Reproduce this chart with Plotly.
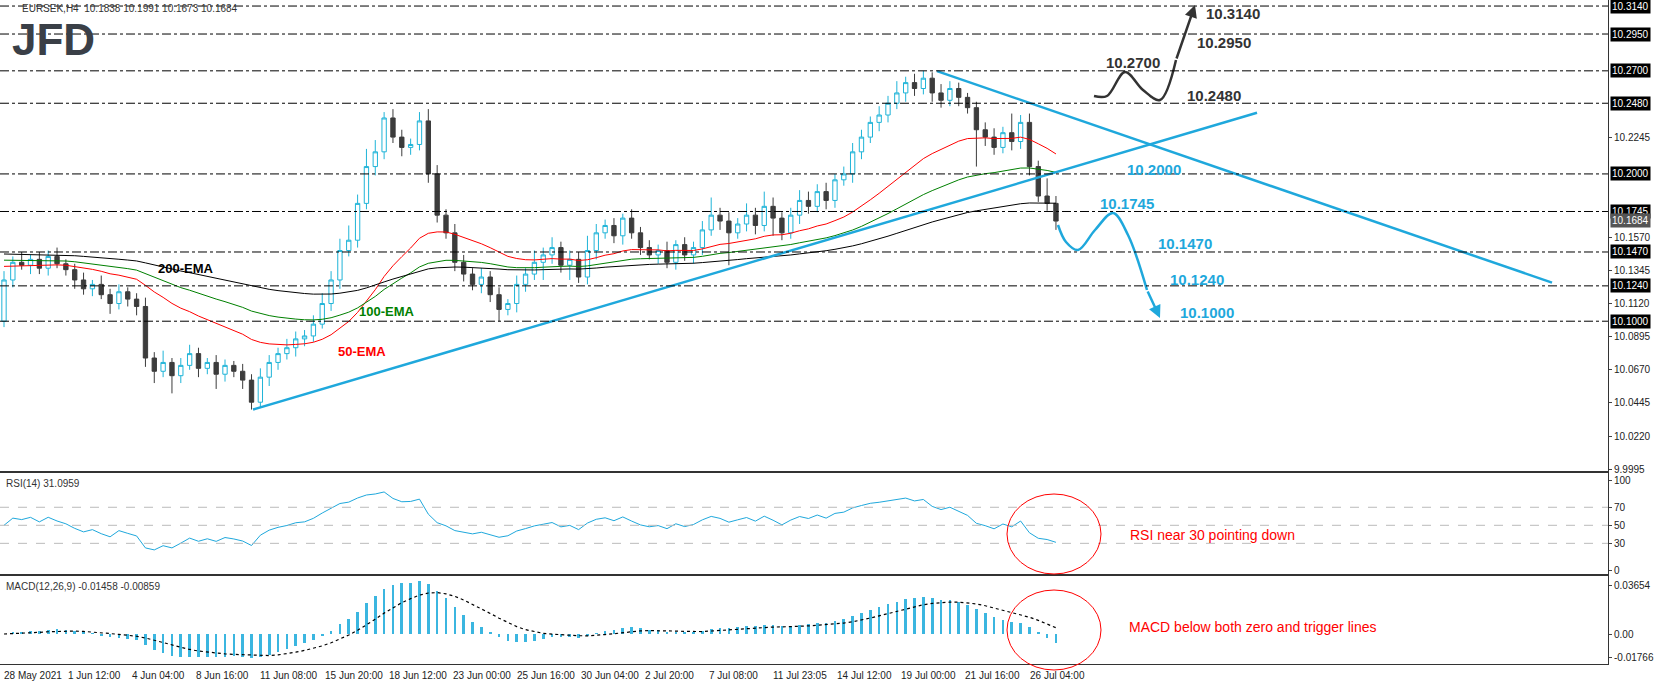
import numpy as np
import plotly.graph_objects as go

# closes of EURSEK (one candle per 8 hours)
closes = [10.128, 10.140, 10.138, 10.142, 10.136, 10.144, 10.139, 10.135,
          10.128, 10.122, 10.125, 10.118, 10.112, 10.120, 10.115, 10.110,
          10.075, 10.066, 10.072, 10.063, 10.070, 10.078, 10.068, 10.072, 10.064, 10.070, 10.066, 10.060,
          10.045, 10.062, 10.072, 10.078, 10.082, 10.088, 10.090, 10.098,
          10.112, 10.128, 10.148, 10.155, 10.180, 10.205, 10.215,
          10.238, 10.225, 10.218, 10.220, 10.236, 10.200,
          10.172, 10.160, 10.140, 10.132,
          10.125, 10.130, 10.118, 10.108, 10.112, 10.125, 10.132, 10.140,
          10.145, 10.150, 10.138, 10.142, 10.130, 10.148, 10.160,
          10.165, 10.158, 10.170, 10.160, 10.150,
          10.145, 10.148, 10.140, 10.152, 10.145, 10.150, 10.162,
          10.172, 10.168, 10.160, 10.166,
          10.172, 10.165, 10.178, 10.170, 10.160, 10.172, 10.182,
          10.178, 10.188, 10.182, 10.196, 10.200,
          10.215, 10.225, 10.235, 10.240, 10.248,
          10.255, 10.262, 10.258, 10.265, 10.255,
          10.250, 10.258, 10.252, 10.245, 10.230,
          10.225, 10.218, 10.228, 10.222, 10.235,
          10.205, 10.185, 10.180, 10.168]
first_open = 10.100
up_wick = [0.006, 0.004, 0.007, 0.003, 0.005, 0.004, 0.006, 0.003, 0.004, 0.005,
           0.003, 0.006, 0.004, 0.005, 0.003, 0.004, 0.006, 0.004, 0.008, 0.003,
           0.005, 0.006, 0.004, 0.003, 0.005, 0.004, 0.003, 0.005, 0.004, 0.006,
           0.005, 0.004, 0.006, 0.005, 0.004, 0.006, 0.007, 0.006, 0.008, 0.010,
           0.006, 0.012, 0.008, 0.004, 0.006, 0.005, 0.004, 0.006, 0.008, 0.006,
           0.004, 0.006, 0.005, 0.004, 0.006, 0.004, 0.005, 0.003, 0.006, 0.004,
           0.008, 0.005, 0.007, 0.004, 0.006, 0.005, 0.010, 0.006, 0.004, 0.005,
           0.003, 0.006, 0.004, 0.005, 0.004, 0.006, 0.003, 0.005, 0.004, 0.006,
           0.012, 0.005, 0.006, 0.004, 0.008, 0.005, 0.010, 0.006, 0.004, 0.005,
           0.007, 0.006, 0.005, 0.006, 0.004, 0.005, 0.006, 0.005, 0.004, 0.006,
           0.005, 0.008, 0.004, 0.006, 0.005, 0.004, 0.006, 0.005, 0.004, 0.003,
           0.004, 0.005, 0.006, 0.004, 0.013, 0.005, 0.006, 0.004, 0.012, 0.005]
dn_wick = [0.004, 0.005, 0.003, 0.006, 0.004, 0.005, 0.003, 0.004, 0.006, 0.004,
           0.005, 0.003, 0.007, 0.004, 0.005, 0.006, 0.006, 0.008, 0.004, 0.012,
           0.005, 0.003, 0.006, 0.004, 0.010, 0.005, 0.004, 0.006, 0.005, 0.004,
           0.006, 0.005, 0.004, 0.006, 0.005, 0.004, 0.003, 0.005, 0.006, 0.004,
           0.005, 0.004, 0.006, 0.005, 0.004, 0.006, 0.005, 0.004, 0.006, 0.005,
           0.004, 0.006, 0.005, 0.004, 0.006, 0.005, 0.008, 0.004, 0.006, 0.005,
           0.004, 0.012, 0.006, 0.005, 0.010, 0.004, 0.005, 0.006, 0.004, 0.005,
           0.006, 0.004, 0.005, 0.003, 0.006, 0.004, 0.005, 0.004, 0.006, 0.005,
           0.004, 0.006, 0.022, 0.004, 0.005, 0.006, 0.004, 0.012, 0.005, 0.004,
           0.006, 0.005, 0.004, 0.006, 0.005, 0.004, 0.006, 0.005, 0.004, 0.006,
           0.005, 0.004, 0.006, 0.005, 0.004, 0.006, 0.005, 0.004, 0.006, 0.004,
           0.025, 0.006, 0.005, 0.004, 0.006, 0.005, 0.006, 0.004, 0.005, 0.006]
ema_seed = {"50": 10.138, "100": 10.142, "200": 10.146}
x_ticks = ["28 May 2021", "1 Jun 12:00", "4 Jun 04:00", "8 Jun 16:00", "11 Jun 08:00",
           "15 Jun 20:00", "18 Jun 12:00", "23 Jun 00:00", "25 Jun 16:00", "30 Jun 04:00",
           "2 Jul 20:00", "7 Jul 08:00", "11 Jul 23:05", "14 Jul 12:00", "19 Jul 00:00",
           "21 Jul 16:00", "26 Jul 04:00"]
price_ticks = [10.2245, 10.1570, 10.1345, 10.1120, 10.0895, 10.0670, 10.0445, 10.0220, 9.9995]
levels = [10.3140, 10.2950, 10.2700, 10.2480, 10.2000, 10.1745, 10.1470, 10.1240, 10.1000]
last_price = 10.1684

n = len(closes)
idx = np.arange(n)
c = np.array(closes)
o = np.concatenate([[first_open], c[:-1]])
h = np.maximum(o, c) + np.array(up_wick)
l = np.minimum(o, c) - np.array(dn_wick)

def ema(vals, period, seed):
    k = 2 / (period + 1)
    out, e = [], seed
    for v in vals:
        e = e + k * (v - e)
        out.append(e)
    return np.array(out)

# 8h candles, so halve the 4h periods
ema50 = ema(c, 25, ema_seed["50"])
ema100 = ema(c, 50, ema_seed["100"])
ema200 = ema(c, 100, ema_seed["200"])

d = np.diff(c, prepend=c[0])
g = ema(np.maximum(d, 0), 24, 0.003)
ls = ema(np.maximum(-d, 0), 24, 0.003)
rsi = 100 - 100 / (1 + g / ls)

macd = ema(c, 11, c[0]) - ema(c, 25, c[0])
signal = ema(macd, 9, 0)

W, H = 1655, 685
ML, MR, MT, MB = 0, 47, 0, 21
PW = W - ML - MR
PH = H - MT - MB
def px(x):
    return (x - ML) / PW
def py(y):
    return 1 - (y - MT) / PH

# pixel <-> data helpers for the main panel
X0, X_PER = 4, 8.84
xr = [(ML - X0) / X_PER, (W - MR - X0) / X_PER]
def xi(x):
    return (x - X0) / X_PER
P_TOP, P_PX = 10.3181, 0.000679
def pr(y):
    return P_TOP - y * P_PX

fig = go.Figure()
fig.add_trace(go.Candlestick(x=idx, open=o, high=h, low=l, close=c,
                             increasing=dict(line=dict(color="#1fb4d8", width=1), fillcolor="white"),
                             decreasing=dict(line=dict(color="#3c3c3c", width=1), fillcolor="#3c3c3c"),
                             whiskerwidth=0, showlegend=False, xaxis="x", yaxis="y"))
for e, col in [(ema50, "red"), (ema100, "green"), (ema200, "black")]:
    fig.add_trace(go.Scatter(x=idx, y=e, mode="lines", line=dict(color=col, width=1),
                             showlegend=False, xaxis="x", yaxis="y"))

# trend lines
fig.add_trace(go.Scatter(x=[xi(253), xi(1257)], y=[10.0400, 10.2415], mode="lines",
                         line=dict(color="#1fa8dc", width=2.5), showlegend=False))
fig.add_trace(go.Scatter(x=[xi(937), xi(1552)], y=[10.2698, 10.1262], mode="lines",
                         line=dict(color="#1fa8dc", width=2.5), showlegend=False))

for lv in levels:
    fig.add_shape(type="line", xref="paper", yref="y", x0=0, x1=1, y0=lv, y1=lv,
                  line=dict(color="black", width=1, dash="dashdot"))

# projected paths
bx = [1094, 1107, 1125, 1143, 1160, 1176]
by = [96, 96, 72, 90, 100, 60]
fig.add_trace(go.Scatter(x=[xi(v) for v in bx], y=[pr(v) for v in by],
                         mode="lines", line=dict(color="#333", width=2.5, shape="spline"), showlegend=False))
fig.add_annotation(x=xi(1195), y=pr(5), ax=xi(1176), ay=pr(60), xref="x", yref="y",
                   axref="x", ayref="y", showarrow=True, arrowhead=2, arrowsize=1, arrowwidth=2.5,
                   arrowcolor="#333", text="")
cx_ = [1058, 1066, 1078, 1095, 1113, 1128, 1147]
cy_ = [225, 242, 250, 230, 213, 235, 290]
fig.add_trace(go.Scatter(x=[xi(v) for v in cx_], y=[pr(v) for v in cy_],
                         mode="lines", line=dict(color="#1fa8dc", width=2.5, shape="spline"), showlegend=False))
fig.add_annotation(x=xi(1160), y=pr(318), ax=xi(1147), ay=pr(290), xref="x", yref="y",
                   axref="x", ayref="y", showarrow=True, arrowhead=2, arrowsize=1, arrowwidth=2.5,
                   arrowcolor="#1fa8dc", text="")

# RSI
fig.add_trace(go.Scatter(x=idx, y=rsi, mode="lines", line=dict(color="#1fa8dc", width=1),
                         showlegend=False, xaxis="x2", yaxis="y2"))
for lv in [70, 50, 30]:
    fig.add_shape(type="line", xref="x2", yref="y2", x0=xr[0], x1=xr[1], y0=lv, y1=lv,
                  line=dict(color="#bbb", width=1, dash="dash"))

# MACD
fig.add_trace(go.Bar(x=idx, y=macd, marker=dict(color="#3bb6e0", line=dict(width=0)), width=0.3,
                     showlegend=False, xaxis="x3", yaxis="y3"))
fig.add_trace(go.Scatter(x=idx, y=signal, mode="lines", line=dict(color="black", width=1.2, dash="dot"),
                         showlegend=False, xaxis="x3", yaxis="y3"))

# ellipses
for ecx, ecy in [(1054, 534), (1054, 630)]:
    fig.add_shape(type="circle", xref="paper", yref="paper", x0=px(ecx - 47), x1=px(ecx + 47),
                  y0=py(ecy + 40), y1=py(ecy - 40), line=dict(color="red", width=1))

F = "Liberation Sans"
def text(x, y, s, col, size=13, bold=False, anchor="left", fam=F):
    fig.add_annotation(x=px(x), y=py(y), xref="paper", yref="paper", text=f"<b>{s}</b>" if bold else s,
                       showarrow=False, xanchor=anchor, yanchor="middle",
                       font=dict(family=fam, size=size, color=col))

text(1104, 63, "10.2700", "#333", 15, True)
text(1185, 95, "10.2480", "#333", 15, True)
text(1204, 13, "10.3140", "#333", 15, True)
text(1195, 42, "10.2950", "#333", 15, True)
text(1125, 169, "10.2000", "#1fa8dc", 15, True)
text(1098, 203, "10.1745", "#1fa8dc", 15, True)
text(1156, 243, "10.1470", "#1fa8dc", 15, True)
text(1168, 279, "10.1240", "#1fa8dc", 15, True)
text(1178, 312, "10.1000", "#1fa8dc", 15, True)
text(156, 269, "200-EMA", "black", 13, True)
text(357, 311, "100-EMA", "green", 13, True)
text(336, 351, "50-EMA", "red", 13, True)
text(1128, 535, "RSI near 30 pointing down", "red", 14)
text(1127, 627, "MACD below both zero and trigger lines", "red", 14)
text(20, 9, "EURSEK,H4  10.1838 10.1991 10.1673 10.1684", "#333", 10)
text(10, 40, "JFD", "#3a3f47", 44, True)
text(4, 483, "RSI(14) 31.0959", "#333", 10)
text(4, 586, "MACD(12,26,9) -0.01458 -0.00859", "#333", 10)

for k, s in enumerate(x_ticks):
    text(2 + 64.1 * k, 675, s, "#222", 10)

# boxed level labels on the right axis
for lv in levels + [last_price]:
    fig.add_annotation(x=1, y=lv, xref="paper", yref="y", text=f"{lv:.4f}", showarrow=False,
                       xanchor="left", xshift=2, bgcolor="black" if lv != last_price else "#555",
                       font=dict(family=F, size=10, color="white"), borderpad=1)

ax_common = dict(showgrid=False, zeroline=False, showline=True, linecolor="#333", mirror=True,
                 range=xr, showticklabels=False, ticks="")
y_common = dict(showgrid=False, zeroline=False, showline=True, linecolor="#333", mirror=True,
                side="right", ticks="outside", ticklen=3, tickfont=dict(family=F, size=10, color="#222"))
fig.update_layout(
    width=W, height=H, margin=dict(l=ML, r=MR, t=MT, b=MB),
    paper_bgcolor="white", plot_bgcolor="white",
    xaxis=dict(**ax_common, domain=[0, 1], anchor="y", rangeslider=dict(visible=False)),
    xaxis2=dict(**ax_common, domain=[0, 1], anchor="y2", matches="x"),
    xaxis3=dict(**ax_common, domain=[0, 1], anchor="y3", matches="x"),
    yaxis=dict(**y_common, domain=[py(471), 1], range=[pr(471), P_TOP], tickvals=price_ticks,
               ticktext=[f"{v:.4f}" for v in price_ticks]),
    yaxis2=dict(**y_common, domain=[py(574), py(473)], range=[-4, 108], tickvals=[0, 30, 50, 70, 100]),
    yaxis3=dict(**y_common, domain=[0, py(576)], range=[-0.0225, 0.0435],
                tickvals=[-0.01766, 0, 0.03654], ticktext=["-0.01766", "0.00", "0.03654"]),
    bargap=0,
)
fig.write_html("out.html", config={"displayModeBar": False},
               post_script="document.body.style.margin='0';document.body.style.overflow='hidden';")
